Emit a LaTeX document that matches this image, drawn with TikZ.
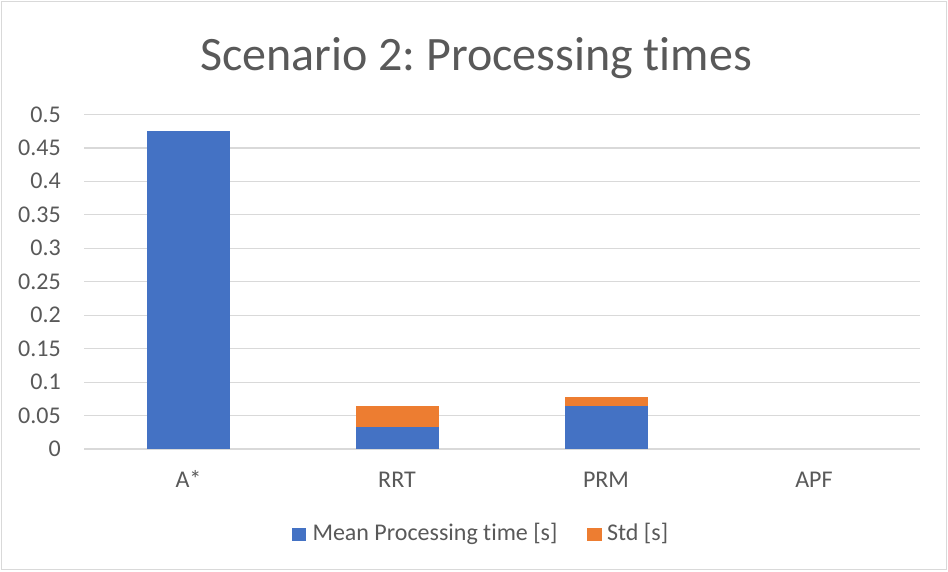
\documentclass[tikz,border=0pt]{standalone}
\usepackage{fontspec}
\setmainfont{Carlito}[Ligatures={NoCommon,NoRare,NoContextual}]
\frenchspacing
\definecolor{txt}{HTML}{595959}
\definecolor{grid}{HTML}{D9D9D9}
\definecolor{bblue}{HTML}{4472C4}
\definecolor{borange}{HTML}{ED7D31}
\begin{document}
\begin{tikzpicture}[x=1pt,y=-1pt,
  lbl/.style={text=txt,inner sep=0pt,font=\fontsize{24}{28}\selectfont},
  gridline/.style={draw=grid,line width=1.2pt},
  meanbar/.style={fill=bblue},
  stdbar/.style={fill=borange}]
\useasboundingbox (0,0) rectangle (948,571);
\fill[white] (0,0) rectangle (948,571);
\draw[grid,line width=1.2pt] (1.5,1.5) rectangle (946.5,569.5);
% title
\node[text=txt,inner sep=0pt,anchor=base,font=\fontsize{48}{56}\selectfont\frenchspacing] (title) at (476,70) {Scenario 2: Processing times};
% gridlines and y labels
\foreach \v/\t [count=\i from 0] in {0/0,0.05/0.05,0.1/0.1,0.15/0.15,0.2/0.2,0.25/0.25,0.3/0.3,0.35/0.35,0.4/0.4,0.45/0.45,0.5/0.5}{
  \pgfmathsetmacro{\yy}{449-\i*33.45}
  \draw[gridline] (84,\yy) -- (920,\yy);
  \node[lbl,anchor=base east] (y\i) at (61,\yy+7.5) {\t};
}
% bars
\fill[meanbar] (147,449) rectangle (230,130.7);
\fill[meanbar] (355.7,449) rectangle (438.5,427.3);
\fill[stdbar]  (355.7,427.3) rectangle (438.5,405.7);
\fill[meanbar] (564.5,449) rectangle (647.5,405.7);
\fill[stdbar]  (564.5,405.7) rectangle (647.5,396.7);
% category labels
\node[lbl,anchor=base] (cA) at (188.5,487.7) {A*};
\node[lbl,anchor=base] (cR) at (397,487.7) {RRT};
\node[lbl,anchor=base] (cP) at (606,487.7) {PRM};
\node[lbl,anchor=base] (cF) at (814,487.7) {APF};
% legend
\fill[meanbar] (292.3,527.7) rectangle (305.7,541);
\node[lbl,anchor=base west] (l1) at (312.3,540.7) {Mean Processing time [s]};
\fill[stdbar] (587,527.7) rectangle (601.5,541);
\node[lbl,anchor=base west] (l2) at (607,540.7) {Std [s]};
\end{tikzpicture}
\end{document}
